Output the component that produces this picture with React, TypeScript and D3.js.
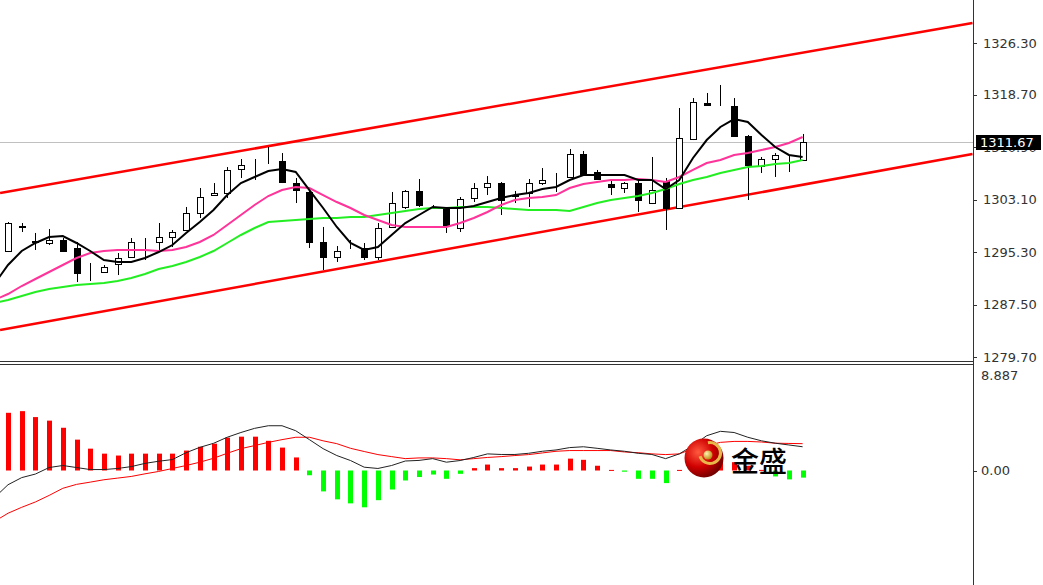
import * as d3 from 'd3'

const W = 1043
const H = 585
const AXIS_X = 973

// candles, oldest first
const opens = [
  1295.45, 1299.0, 1296.8, 1296.64, 1297.09, 1295.9, 1292.3, 1292.33, 1293.52, 1294.56,
  1296.75, 1296.79, 1297.53, 1298.57, 1301.1, 1303.77, 1304.07, 1307.64, 1307.6, 1308.55,
  1308.82, 1305.55, 1304.22, 1296.79, 1294.56, 1295.9, 1295.9, 1294.56, 1299.02, 1301.99,
  1304.37, 1302.0, 1301.84, 1298.87, 1303.33, 1304.96, 1305.55, 1303.7, 1304.07, 1305.55,
  1306.0, 1306.45, 1309.86, 1307.19, 1305.41, 1304.81, 1305.55, 1302.58, 1305.85, 1301.84,
  1312.09, 1317.44, 1317.15, 1317.0, 1312.54, 1308.08, 1309.12, 1309.3, 1308.97,
]
const highs = [
  1299.76, 1299.61, 1298.13, 1298.72, 1297.38, 1296.79, 1293.67, 1293.37, 1295.15, 1297.38,
  1297.38, 1299.61, 1298.57, 1301.99, 1304.81, 1305.55, 1307.93, 1309.12, 1309.12, 1310.9,
  1310.01, 1306.3, 1304.51, 1299.02, 1296.19, 1297.09, 1296.64, 1299.61, 1304.22, 1304.51,
  1306.15, 1302.29, 1301.99, 1303.47, 1305.55, 1306.59, 1305.7, 1304.37, 1306.15, 1307.78,
  1307.04, 1310.61, 1310.31, 1307.49, 1306.0, 1305.7, 1306.3, 1309.42, 1306.3, 1316.7,
  1318.18, 1318.93, 1320.12, 1318.18, 1312.69, 1309.42, 1310.01, 1309.72, 1312.84,
]
const lows = [
  1295.3, 1298.27, 1295.6, 1296.34, 1295.3, 1290.84, 1290.99, 1292.18, 1291.88, 1294.41,
  1294.11, 1295.6, 1296.04, 1298.42, 1300.35, 1303.77, 1303.33, 1306.3, 1306.0, 1308.38,
  1305.55, 1302.58, 1295.9, 1292.63, 1293.82, 1295.75, 1294.11, 1294.11, 1298.87, 1301.69,
  1301.99, 1301.69, 1298.13, 1298.27, 1302.73, 1303.77, 1300.8, 1302.58, 1301.99, 1305.26,
  1304.22, 1306.45, 1306.74, 1306.0, 1303.77, 1304.07, 1301.25, 1302.43, 1298.57, 1301.84,
  1311.94, 1317.14, 1317.0, 1312.39, 1303.03, 1307.04, 1306.45, 1307.19, 1308.97,
]
const closes = [
  1299.61, 1299.1, 1296.9, 1297.09, 1295.45, 1292.18, 1292.4, 1293.07, 1294.41, 1296.79,
  1296.85, 1297.53, 1298.27, 1301.1, 1303.47, 1304.07, 1307.49, 1308.23, 1307.7, 1308.5,
  1305.7, 1304.51, 1296.79, 1294.56, 1295.45, 1295.85, 1294.56, 1298.87, 1302.58, 1304.37,
  1302.29, 1302.05, 1299.31, 1303.18, 1304.81, 1305.55, 1303.03, 1303.6, 1305.55, 1306.0,
  1306.05, 1309.86, 1306.89, 1306.15, 1304.96, 1305.55, 1303.03, 1304.51, 1301.84, 1312.24,
  1317.59, 1317.14, 1317.1, 1312.54, 1308.23, 1309.12, 1309.72, 1309.2, 1311.67,
]

// moving averages, first value is the bar just left of the window
const maFast = [
  1290.55, 1293.37, 1295.45, 1296.64, 1297.53, 1297.68, 1296.64, 1295.45, 1294.11, 1293.82,
  1293.82, 1294.41, 1295.3, 1296.34, 1298.13, 1299.76, 1301.54, 1303.77, 1305.55, 1306.45,
  1307.34, 1307.64, 1307.19, 1304.51, 1301.84, 1299.02, 1296.64, 1295.6, 1296.04, 1297.83,
  1299.61, 1300.8, 1301.99, 1301.84, 1301.84, 1302.14, 1302.73, 1303.33, 1303.77, 1304.07,
  1304.66, 1304.96, 1306.0, 1306.74, 1306.74, 1306.74, 1306.74, 1306.0, 1306.0, 1304.66,
  1306.0, 1309.27, 1311.94, 1313.88, 1315.06, 1314.62, 1312.69, 1310.9, 1309.72, 1309.42,
]
const maMid = [
  1288.17, 1289.06, 1290.25, 1291.29, 1292.33, 1293.37, 1294.41, 1295.15, 1295.45, 1295.6,
  1295.6, 1295.6, 1295.45, 1295.6, 1296.04, 1296.79, 1297.83, 1299.31, 1300.8, 1302.29,
  1303.62, 1304.51, 1304.96, 1304.81, 1303.77, 1302.73, 1301.84, 1300.8, 1300.06, 1299.31,
  1299.02, 1299.02, 1299.02, 1299.02, 1299.61, 1300.35, 1301.25, 1302.29, 1303.03, 1303.33,
  1303.47, 1303.77, 1304.81, 1305.41, 1305.7, 1306.0, 1306.0, 1306.15, 1306.0, 1305.7,
  1306.45, 1307.49, 1308.53, 1308.97, 1309.72, 1310.01, 1310.46, 1310.9, 1311.5, 1312.39,
]
const maSlow = [
  1287.72, 1288.17, 1288.76, 1289.36, 1289.8, 1290.1, 1290.4, 1290.55, 1290.7, 1290.99,
  1291.44, 1292.03, 1292.78, 1293.22, 1293.82, 1294.56, 1295.45, 1296.64, 1297.83, 1298.87,
  1299.76, 1299.91, 1300.06, 1300.21, 1300.35, 1300.35, 1300.5, 1300.5, 1300.8, 1301.1,
  1301.39, 1301.69, 1301.84, 1301.84, 1301.99, 1301.99, 1301.99, 1301.84, 1301.69, 1301.54,
  1301.54, 1301.54, 1301.39, 1301.99, 1302.58, 1303.03, 1303.33, 1303.62, 1304.07, 1304.66,
  1305.41, 1306.0, 1306.45, 1307.04, 1307.49, 1307.93, 1308.08, 1308.38, 1308.53, 1308.97,
]

// MACD panel
const macdHist = [
  4.86, 5.0, 4.5, 4.2, 3.6, 2.6, 1.84, 1.42, 1.26, 1.42,
  1.42, 1.42, 1.42, 1.68, 2.0, 2.26, 2.77, 2.85, 2.85, 2.5,
  1.93, 1.1, -0.4, -1.76, -2.43, -2.77, -3.1, -2.5, -1.6, -0.84,
  -0.55, -0.34, -0.7, -0.28, 0.2, 0.5, 0.2, 0.2, 0.33, 0.5,
  0.5, 1.0, 0.9, 0.4, 0.05, -0.1, -0.7, -0.7, -1.06, 0.05,
  0.4, 0.8, 1.0, 0.7, 0.4, 0.05, -0.5, -0.75, -0.6,
]
const macdDif = [
  -2.3, -1.2, -0.6, -0.3, 0.25, 0.42, 0.25, 0.08, 0.08, 0.17,
  0.33, 0.6, 0.78, 0.92, 1.5, 1.95, 2.29, 2.8, 3.2, 3.55,
  3.77, 3.77, 3.35, 2.6, 1.84, 1.26, 0.84, 0.28, 0.17, 0.42,
  0.8, 0.85, 1.0, 0.7, 0.84, 1.1, 1.4, 1.35, 1.35, 1.45,
  1.62, 1.73, 1.93, 2.0, 1.87, 1.73, 1.62, 1.45, 1.35, 1.0,
  1.4, 2.1, 2.93, 3.3, 3.2, 2.8, 2.5, 2.3, 2.15, 2.0,
]
const macdDea = [
  -4.3, -3.6, -3.1, -2.65, -2.1, -1.5, -1.17, -0.98, -0.78, -0.64,
  -0.5, -0.28, -0.08, 0.17, 0.42, 0.7, 1.03, 1.45, 1.84, 2.1,
  2.37, 2.6, 2.8, 2.8, 2.5, 2.26, 1.87, 1.6, 1.34, 1.17,
  1.0, 1.06, 1.06, 1.0, 0.9, 1.0, 1.1, 1.17, 1.26, 1.34,
  1.48, 1.62, 1.68, 1.68, 1.68, 1.68, 1.56, 1.5, 1.4, 1.34,
  1.4, 1.84, 2.1, 2.37, 2.45, 2.45, 2.4, 2.3, 2.28, 2.26,
]

const priceTicks = [1326.3, 1318.7, 1310.9, 1303.1, 1295.3, 1287.5, 1279.7]
const lastPrice = 1311.67
const macdTop = 8.887
const macdBottomLabel = '-10.546'

// channel lines as [bar index, price]
const channelUpper: [number, number][] = [[-0.58, 1304.07], [70.4, 1329.33]]
const channelLower: [number, number][] = [[-0.58, 1283.71], [70.4, 1309.86]]

const FONT = '"DejaVu Sans", Verdana, sans-serif'

export default function App() {
  const n = closes.length
  const x = d3.scaleLinear().domain([0, n - 1]).range([8, 8 + (n - 1) * 13.7])
  const y = d3.scaleLinear().domain([1279.7, 1326.3]).range([357, 43.4])
  const ym = d3.scaleLinear().domain([0, macdTop]).range([470.5, 365])

  const maLine = d3.line<number>().x((_, i) => x(i - 1)).y(d => y(d))
  const macdLine = d3.line<number>().x((_, i) => x(i - 1)).y(d => ym(d))
  const chanLine = d3.line<[number, number]>().x(d => x(d[0])).y(d => y(d[1]))

  const px = (i: number) => Math.round(x(i)) + 0.5

  return (
    <svg width={W} height={H} style={{ position: 'absolute', left: 0, top: 0, background: '#fff' }}>
      <defs>
        <clipPath id="pricePanel"><rect x={0} y={0} width={AXIS_X} height={361} /></clipPath>
        <clipPath id="macdPanel"><rect x={0} y={365} width={AXIS_X} height={H - 365} /></clipPath>
        <radialGradient id="ball" cx="35%" cy="35%" r="70%">
          <stop offset="0%" stopColor="#ff5a40" />
          <stop offset="55%" stopColor="#d00000" />
          <stop offset="100%" stopColor="#6e0000" />
        </radialGradient>
        <radialGradient id="gold" cx="35%" cy="35%" r="70%">
          <stop offset="0%" stopColor="#fff3b0" />
          <stop offset="100%" stopColor="#b8860b" />
        </radialGradient>
      </defs>

      {/* price panel */}
      <g clipPath="url(#pricePanel)">
        <line x1={0} x2={AXIS_X} y1={Math.round(y(lastPrice)) + 0.5} y2={Math.round(y(lastPrice)) + 0.5} stroke="#c0c0c0" />
        <path d={chanLine(channelUpper)!} stroke="#ff0000" strokeWidth={2.5} fill="none" />
        <path d={chanLine(channelLower)!} stroke="#ff0000" strokeWidth={2.5} fill="none" />

        {closes.map((c, i) => {
          const o = opens[i]
          const up = c >= o
          const top = Math.round(y(Math.max(o, c))) + 0.5
          const bot = Math.round(y(Math.min(o, c))) + 0.5
          const cx = px(i)
          return (
            <g key={i}>
              <line x1={cx} x2={cx} y1={y(highs[i])} y2={y(lows[i])} stroke="#000" />
              <rect x={cx - 3} y={top} width={6} height={Math.max(0, bot - top)}
                fill={up ? '#fff' : '#000'} stroke="#000" />
            </g>
          )
        })}

        <path d={maSlow.length ? maLine(maSlow)! : ''} stroke="#22ee22" strokeWidth={2} fill="none" />
        <path d={maLine(maMid)!} stroke="#ff3399" strokeWidth={2} fill="none" />
        <path d={maLine(maFast)!} stroke="#000" strokeWidth={2} fill="none" />
      </g>

      {/* MACD panel */}
      <g clipPath="url(#macdPanel)">
        {macdHist.map((v, i) => (
          <rect key={i} x={Math.round(x(i)) - 2} width={5}
            y={Math.min(ym(v), ym(0))} height={Math.max(1, Math.abs(ym(v) - ym(0)))}
            fill={v >= 0 ? '#ff0000' : '#00ff00'} />
        ))}
        <path d={macdLine(macdDea)!} stroke="#ff0000" strokeWidth={1} fill="none" />
        <path d={macdLine(macdDif)!} stroke="#222" strokeWidth={1} fill="none" />
      </g>

      {/* watermark logo */}
      <g>
        <circle cx={704} cy={458} r={19.5} fill="url(#ball)" />
        <path d={d3.arc()({ innerRadius: 9, outerRadius: 12, startAngle: -0.2, endAngle: 4.4 })!}
          transform="translate(710,453)" fill="#e8b84a" />
        <circle cx={708} cy={455} r={4.5} fill="url(#gold)" />
        <text x={731} y={472} fontSize={28} fontFamily='"Noto Sans CJK SC", sans-serif' fontWeight={500} fill="#000">金盛</text>
      </g>

      {/* frames and axis */}
      <line x1={0} x2={AXIS_X} y1={361.5} y2={361.5} stroke="#333" />
      <line x1={0} x2={AXIS_X} y1={364.5} y2={364.5} stroke="#333" />
      <line x1={AXIS_X + 0.5} x2={AXIS_X + 0.5} y1={0} y2={H} stroke="#333" />

      <g fontFamily={FONT} fontSize={13} fill="#333">
        {priceTicks.map(t => (
          <g key={t}>
            <line x1={AXIS_X} x2={AXIS_X + 4} y1={Math.round(y(t)) + 0.5} y2={Math.round(y(t)) + 0.5} stroke="#333" />
            <text x={983} y={y(t)} dominantBaseline="central">{t.toFixed(2)}</text>
          </g>
        ))}
        <rect x={976} y={Math.round(y(lastPrice)) - 7} width={65} height={15} fill="#000" />
        <text x={980} y={y(lastPrice) + 0.5} dominantBaseline="central" fill="#fff">{lastPrice.toFixed(2)}</text>

        <text x={981} y={375} dominantBaseline="central">{macdTop.toFixed(3)}</text>
        <line x1={AXIS_X} x2={AXIS_X + 4} y1={Math.round(ym(0)) + 0.5} y2={Math.round(ym(0)) + 0.5} stroke="#333" />
        <text x={981} y={ym(0)} dominantBaseline="central">{(0).toFixed(2)}</text>
        <text x={981} y={594} dominantBaseline="central">{macdBottomLabel}</text>
      </g>
    </svg>
  )
}
